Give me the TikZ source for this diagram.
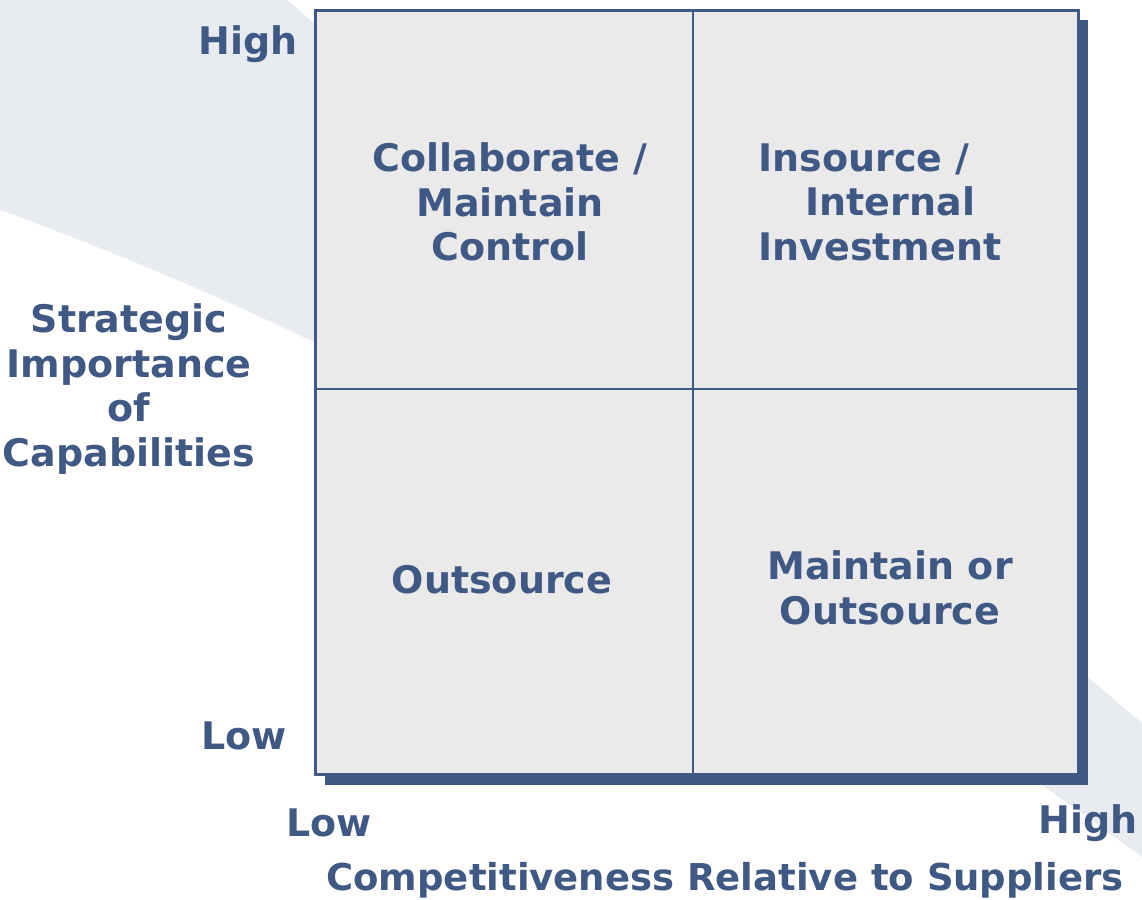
\documentclass[tikz,border=0pt]{standalone}
\usepackage{fontspec}
\setmainfont{DejaVu Sans}
\begin{document}
\definecolor{ink}{RGB}{64,88,132}
\definecolor{cellfill}{RGB}{234,234,234}
\definecolor{band}{RGB}{232,236,240}
\begin{tikzpicture}[x=1pt,y=-1pt,
  lbl/.style={text=ink,font=\fontsize{38}{44.5}\selectfont\bfseries,inner sep=0pt,align=center},
  cell/.style={draw=ink,line width=2.8pt,fill=cellfill}]
\useasboundingbox (0,0) rectangle (1142,899);
% light background band
\fill[band] (0,0) -- (287,0) -- (1142,723) -- (1142,857)
  .. controls (742,565) and (400,355) .. (0,210) -- cycle;
% drop shadow and matrix frame
\fill[ink] (325,20) rectangle (1088,785);
\node[cell,minimum width=763pt,minimum height=764pt,anchor=north west] (grid) at (314,9) {};
\coordinate (midtop) at (693,9);
\coordinate (midbot) at (693,773);
\coordinate (midleft) at (314,389);
\coordinate (midright) at (1077,389);
\draw[ink,line width=2.8pt] (midtop) -- (midbot);
\draw[ink,line width=2.8pt] (midleft) -- (midright);
% quadrant labels
\node[lbl] (q1) at (510,202) {Collaborate /\\Maintain\\Control};
\node[lbl,align=left] (q2) at (880,202) {Insource /\\\hspace{47pt}Internal\\Investment};
\node[lbl] (q3) at (502,580) {Outsource};
\node[lbl] (q4) at (890,588) {Maintain or\\Outsource};
% axis labels
\node[lbl,anchor=east] (yhigh) at (298,44) {High};
\node[lbl,anchor=east] (ylow) at (287,736) {Low};
\node[lbl] (ytitle) at (129,389) {Strategic\\Importance\\of\\Capabilities};
\node[lbl] (xlow) at (329,823) {Low};
\node[lbl,anchor=east] (xhigh) at (1138,823) {High};
\node[lbl,font=\fontsize{37}{44.5}\selectfont\bfseries] (xtitle) at (725,880) {Competitiveness Relative to Suppliers};
\end{tikzpicture}
\end{document}
